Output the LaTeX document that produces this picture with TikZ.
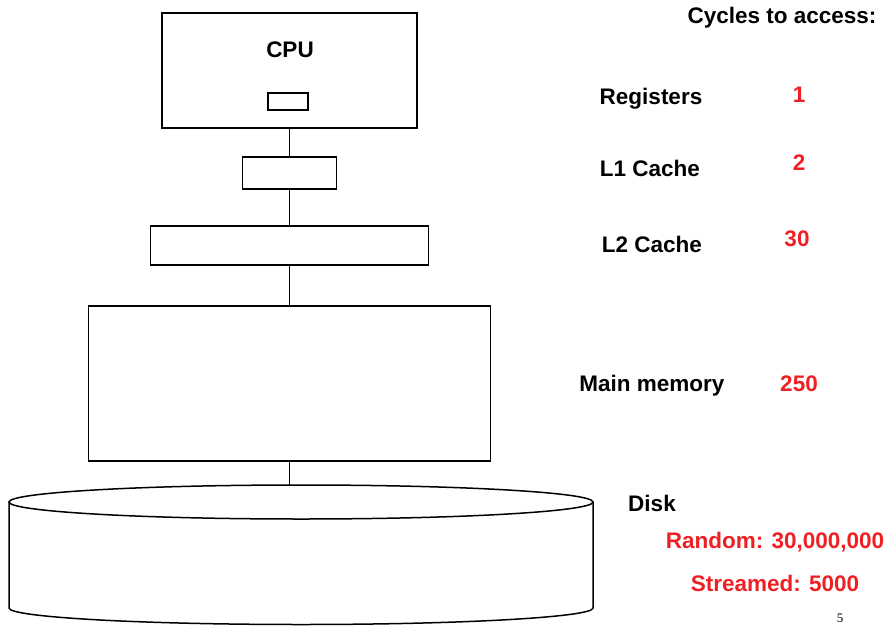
\documentclass[tikz,border=0pt]{standalone}
\usepackage{fontspec}
\setmainfont{Liberation Sans}
\newfontfamily\pagenumfont{Liberation Serif}
\definecolor{costred}{RGB}{238,32,36}
\begin{document}
\begin{tikzpicture}[x=1pt,y=-1pt,
  box/.style={draw, line width=1.4pt, inner sep=0pt},
  lbl/.style={font=\bfseries\fontsize{22.5}{26}\selectfont},
  cost/.style={lbl, text=costred}]
\useasboundingbox (0,0) rectangle (888,626);
% memory hierarchy boxes
\node[box, minimum width=255pt, minimum height=115pt] (cpu) at (289.5,70.5) {};
\node[lbl] (cputxt) at (290,50) {CPU};
\node[box, minimum width=40pt, minimum height=17pt] (regs) at (288,101.5) {};
\node[box, minimum width=94pt, minimum height=32pt] (lone) at (289.5,173) {};
\node[box, minimum width=278pt, minimum height=39pt] (ltwo) at (289.5,245.5) {};
\node[box, minimum width=402pt, minimum height=155pt] (mem) at (289.5,383.5) {};
\coordinate (disktop) at (289.5,485);
\draw[line width=1.2pt] (cpu.south) -- (lone.north);
\draw[line width=1.4pt] (lone.south) -- (ltwo.north);
\draw[line width=1.4pt] (ltwo.south) -- (mem.north);
\draw[line width=1.4pt] (mem.south) -- (disktop);
% disk
\draw[line width=1.5pt] (301,502) ellipse [x radius=292, y radius=17];
\draw[line width=1.5pt] (9,502) -- (9,608) arc[start angle=180, end angle=0, x radius=292, y radius=16.5] -- (593,502);
% labels
\node[lbl] (cycles) at (782,18) {Cycles to access:};
\node[lbl] (reglbl) at (651,99) {Registers};
\node[cost] (regcost) at (799,95) {1};
\node[lbl] (l1lbl) at (650,168) {L1 Cache};
\node[cost] (l1cost) at (799,163) {2};
\node[lbl] (l2lbl) at (652,244) {L2 Cache};
\node[cost] (l2cost) at (797,239) {30};
\node[lbl] (memlbl) at (652,386) {Main memory};
\node[cost] (memcost) at (799,384) {250};
\node[lbl] (disklbl) at (652,503) {Disk};
\node[cost] (randcost) at (775,542) {Random: 30,000,000};
\node[cost] (streamcost) at (775,583) {Streamed: 5000};
\node[font=\pagenumfont\fontsize{13}{15}\selectfont] (pagenum) at (840,618) {5};
\end{tikzpicture}
\end{document}
